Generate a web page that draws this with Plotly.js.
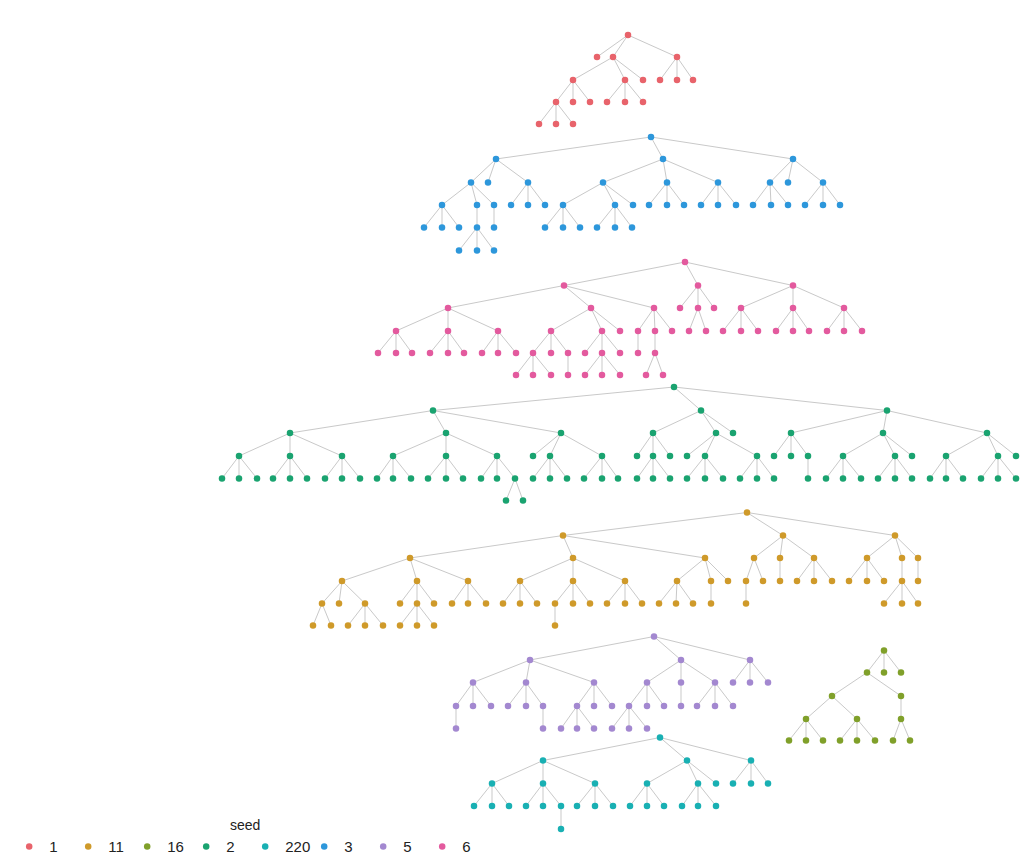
<!DOCTYPE html>
<html>
<head>
<meta charset="utf-8">
<script src="https://cdn.plot.ly/plotly-3.0.1.min.js"></script>
<style>html,body{margin:0;padding:0;background:#fff;}#chart{width:1023px;height:863px;}</style>
</head>
<body>
<div id="chart"></div>
<script>
// seed labels in legend order
const seeds = ["1", "11", "16", "2", "220", "3", "5", "6"];
const seedColors = ["#e8636b", "#cf9a2a", "#80a02a", "#1aa370", "#19b0b3", "#2d97db", "#a388d0", "#e35a9e"];

// seed 1
const seed1_x = [628, 597, 613, 677, 573, 625, 643, 660, 677, 693, 556, 573, 590, 607, 625, 643, 539, 556, 573];
const seed1_y = [35, 57, 57, 57, 80, 80, 80, 80, 80, 80, 102, 102, 102, 102, 102, 102, 124, 124, 124];
const seed1_parent = [-1, 0, 0, 0, 2, 2, 2, 3, 3, 3, 4, 4, 4, 5, 5, 5, 10, 10, 10];

// seed 3
const seed3_x = [651, 496, 663, 793, 471, 488, 528, 603, 667, 718, 770, 788, 823,
  442, 477, 494, 511, 528, 545, 563, 615, 633, 649, 667, 684, 701, 718, 736, 753, 771, 788, 805, 823, 840,
  424, 442, 459, 477, 494, 545, 563, 580, 597, 615, 632,
  459, 477, 494];
const seed3_y = [137, 159, 159, 159, 182.5, 182.5, 182.5, 182.5, 182.5, 182.5, 182.5, 182.5, 182.5,
  205, 205, 205, 205, 205, 205, 205, 205, 205, 205, 205, 205, 205, 205, 205, 205, 205, 205, 205, 205, 205,
  227.5, 227.5, 227.5, 227.5, 227.5, 227.5, 227.5, 227.5, 227.5, 227.5, 227.5,
  250.5, 250.5, 250.5];
const seed3_parent = [-1, 0, 0, 0, 1, 1, 1, 2, 2, 2, 3, 3, 3,
  4, 4, 4, 6, 6, 6, 7, 7, 7, 8, 8, 8, 9, 9, 9, 10, 10, 10, 12, 12, 12,
  13, 13, 13, 14, 15, 19, 19, 19, 20, 20, 20,
  37, 37, 37];

// seed 6
const seed6_x = [685, 564, 698, 793, 448, 591, 654, 680, 698, 714, 741, 793, 844,
  396, 448, 498, 551, 602, 620, 638, 655, 672, 689, 706, 723, 741, 758, 776, 793, 809, 827, 844, 862,
  378, 396, 412, 430, 448, 464, 482, 498, 516, 533, 551, 568, 585, 602, 620, 638, 655,
  516, 533, 551, 568, 585, 602, 620, 646, 663];
const seed6_y = [262, 285.5, 285.5, 285.5, 308, 308, 308, 308, 308, 308, 308, 308, 308,
  331, 331, 331, 331, 331, 331, 331, 331, 331, 331, 331, 331, 331, 331, 331, 331, 331, 331, 331, 331,
  353, 353, 353, 353, 353, 353, 353, 353, 353, 353, 353, 353, 353, 353, 353, 353, 353,
  375, 375, 375, 375, 375, 375, 375, 375, 375];
const seed6_parent = [-1, 0, 0, 0, 1, 1, 1, 2, 2, 2, 3, 3, 3,
  4, 4, 4, 5, 5, 5, 6, 6, 6, 8, 8, 10, 10, 10, 11, 11, 11, 12, 12, 12,
  13, 13, 13, 14, 14, 14, 15, 15, 15, 16, 16, 16, 17, 17, 17, 19, 20,
  42, 42, 42, 44, 46, 46, 46, 49, 49];

// seed 2
const seed2_x = [674, 433, 701, 887, 290, 446, 561, 653, 716, 733, 791, 883, 987,
  239, 290, 342, 393, 446, 497, 533, 550, 602, 637, 653, 670, 687, 705, 757, 774, 791, 808, 843, 895, 912, 946, 998, 1016,
  222, 239, 257, 273, 290, 307, 325, 342, 360, 377, 393, 411, 428, 446, 463, 481, 497, 515, 533, 550, 567, 584, 602, 618,
  637, 653, 670, 687, 705, 723, 740, 757, 774, 808, 826, 843, 861, 878, 895, 912, 930, 946, 963, 981, 998, 1016,
  506, 523];
const seed2_y = [387, 410.5, 410.5, 410.5, 433, 433, 433, 433, 433, 433, 433, 433, 433,
  456, 456, 456, 456, 456, 456, 456, 456, 456, 456, 456, 456, 456, 456, 456, 456, 456, 456, 456, 456, 456, 456, 456, 456,
  478.5, 478.5, 478.5, 478.5, 478.5, 478.5, 478.5, 478.5, 478.5, 478.5, 478.5, 478.5, 478.5, 478.5, 478.5, 478.5, 478.5, 478.5, 478.5, 478.5, 478.5, 478.5, 478.5, 478.5,
  478.5, 478.5, 478.5, 478.5, 478.5, 478.5, 478.5, 478.5, 478.5, 478.5, 478.5, 478.5, 478.5, 478.5, 478.5, 478.5, 478.5, 478.5, 478.5, 478.5, 478.5, 478.5,
  500.5, 500.5];
const seed2_parent = [-1, 0, 0, 0, 1, 1, 1, 2, 2, 2, 3, 3, 3,
  4, 4, 4, 5, 5, 5, 6, 6, 6, 7, 7, 7, 8, 8, 8, 10, 10, 10, 11, 11, 11, 12, 12, 12,
  13, 13, 13, 14, 14, 14, 15, 15, 15, 16, 16, 16, 17, 17, 17, 18, 18, 18, 20, 20, 20, 21, 21, 21,
  23, 23, 23, 26, 26, 26, 27, 27, 27, 30, 31, 31, 31, 32, 32, 32, 34, 34, 34, 35, 35, 35,
  54, 54];

// seed 11
const seed11_x = [747, 563, 783, 895, 410, 573, 705, 754, 780, 814, 867, 902, 918,
  342, 417, 468, 520, 573, 625, 677, 711, 728, 746, 763, 780, 797, 814, 832, 849, 867, 884, 902, 918,
  322, 339, 365, 400, 417, 434, 452, 468, 486, 503, 520, 537, 555, 573, 590, 607, 625, 642, 659, 676, 693, 711, 746, 884, 902, 918,
  313, 331, 348, 365, 383, 400, 417, 434, 555];
const seed11_y = [512.5, 535.5, 535.5, 535.5, 558, 558, 558, 558, 558, 558, 558, 558, 558,
  581, 581, 581, 581, 581, 581, 581, 581, 581, 581, 581, 581, 581, 581, 581, 581, 581, 581, 581, 581,
  603.5, 603.5, 603.5, 603.5, 603.5, 603.5, 603.5, 603.5, 603.5, 603.5, 603.5, 603.5, 603.5, 603.5, 603.5, 603.5, 603.5, 603.5, 603.5, 603.5, 603.5, 603.5, 603.5, 603.5, 603.5, 603.5,
  625.5, 625.5, 625.5, 625.5, 625.5, 625.5, 625.5, 625.5, 625.5];
const seed11_parent = [-1, 0, 0, 0, 1, 1, 1, 2, 2, 2, 3, 3, 3,
  4, 4, 4, 5, 5, 5, 6, 6, 6, 7, 7, 8, 9, 9, 9, 10, 10, 10, 11, 12,
  13, 13, 13, 14, 14, 14, 15, 15, 15, 16, 16, 16, 17, 17, 17, 18, 18, 18, 19, 19, 19, 20, 22, 31, 31, 31,
  33, 33, 35, 35, 35, 37, 37, 37, 45];

// seed 5
const seed5_x = [654, 530, 681, 750, 473, 526, 594, 647, 681, 715, 733, 750, 768,
  456, 473, 491, 508, 526, 543, 577, 594, 612, 629, 647, 664, 681, 697, 715, 733,
  456, 543, 561, 577, 594, 612, 629, 647];
const seed5_y = [636.5, 660, 660, 660, 682.5, 682.5, 682.5, 682.5, 682.5, 682.5, 682.5, 682.5, 682.5,
  706, 706, 706, 706, 706, 706, 706, 706, 706, 706, 706, 706, 706, 706, 706, 706,
  728.5, 728.5, 728.5, 728.5, 728.5, 728.5, 728.5, 728.5];
const seed5_parent = [-1, 0, 0, 0, 1, 1, 1, 2, 2, 2, 3, 3, 3,
  4, 4, 4, 5, 5, 5, 6, 6, 6, 7, 7, 7, 8, 9, 9, 9,
  13, 18, 19, 19, 19, 22, 22, 22];

// seed 16
const seed16_x = [884, 867, 884, 901, 832, 901, 806, 857, 901, 789, 806, 823, 840, 857, 875, 893, 910];
const seed16_y = [650.5, 672.5, 672.5, 672.5, 696, 696, 719, 719, 719, 740.5, 740.5, 740.5, 740.5, 740.5, 740.5, 740.5, 740.5];
const seed16_parent = [-1, 0, 0, 0, 1, 1, 4, 4, 5, 6, 6, 6, 7, 7, 7, 8, 8];

// seed 220
const seed220_x = [660, 543, 687, 751, 492, 543, 595, 647, 698, 716, 733, 751, 768,
  474, 492, 509, 526, 543, 561, 577, 595, 613, 630, 647, 664, 682, 698, 716,
  561];
const seed220_y = [737.5, 760.5, 760.5, 760.5, 783.5, 783.5, 783.5, 783.5, 783.5, 783.5, 783.5, 783.5, 783.5,
  806, 806, 806, 806, 806, 806, 806, 806, 806, 806, 806, 806, 806, 806, 806,
  829];
const seed220_parent = [-1, 0, 0, 0, 1, 1, 1, 2, 2, 2, 3, 3, 3,
  4, 4, 4, 5, 5, 5, 6, 6, 6, 7, 7, 7, 8, 8, 8,
  18];

const trees = {
  "1": [seed1_x, seed1_y, seed1_parent],
  "11": [seed11_x, seed11_y, seed11_parent],
  "16": [seed16_x, seed16_y, seed16_parent],
  "2": [seed2_x, seed2_y, seed2_parent],
  "220": [seed220_x, seed220_y, seed220_parent],
  "3": [seed3_x, seed3_y, seed3_parent],
  "5": [seed5_x, seed5_y, seed5_parent],
  "6": [seed6_x, seed6_y, seed6_parent]
};

const traces = [];
// edges
seeds.forEach(s => {
  const [xs, ys, ps] = trees[s];
  const ex = [], ey = [];
  ps.forEach((p, i) => {
    if (p >= 0) { ex.push(xs[p], xs[i], null); ey.push(ys[p], ys[i], null); }
  });
  traces.push({type: 'scatter', mode: 'lines', x: ex, y: ey, showlegend: false, hoverinfo: 'skip',
    line: {color: '#c9c9c9', width: 1}});
});
// nodes
seeds.forEach((s, k) => {
  const [xs, ys] = trees[s];
  traces.push({type: 'scatter', mode: 'markers', name: s, x: xs, y: ys,
    marker: {color: seedColors[k], size: 6.5}});
});

const layout = {
  width: 1023, height: 863,
  margin: {l: 0, r: 0, t: 0, b: 0},
  paper_bgcolor: '#ffffff', plot_bgcolor: '#ffffff',
  xaxis: {range: [0, 1023], visible: false, fixedrange: true},
  yaxis: {range: [863, 0], visible: false, fixedrange: true},
  showlegend: true,
  legend: {
    orientation: 'h', x: 0.009, xanchor: 'left', y: 0, yanchor: 'bottom',
    bgcolor: 'rgba(0,0,0,0)', font: {family: 'Liberation Sans, Arial, sans-serif', size: 15, color: '#222'},
    title: {text: 'seed', side: 'top center', font: {family: 'Liberation Sans, Arial, sans-serif', size: 14, color: '#222'}},
    itemwidth: 30, entrywidth: 14, tracegroupgap: 0
  }
};

Plotly.newPlot('chart', traces, layout, {displayModeBar: false, staticPlot: true});
</script>
</body>
</html>
